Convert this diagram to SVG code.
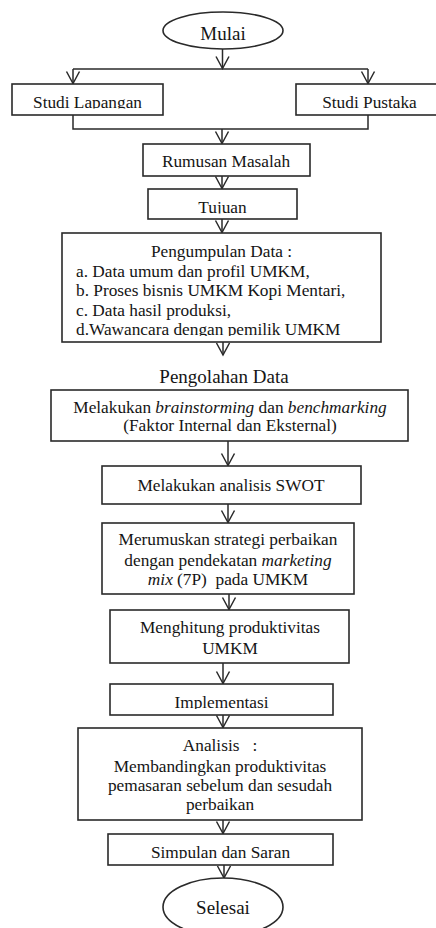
<svg xmlns="http://www.w3.org/2000/svg" width="436" height="928" viewBox="0 0 436 928">
<style>
.box{fill:#fff;stroke:#2a2a2a;stroke-width:1.6}
.t{font-family:"Liberation Serif","Times New Roman",serif;font-size:17.3px;fill:#151515;text-anchor:middle;white-space:pre}
.tl{text-anchor:start}
.big{font-size:19px}
.c{fill:none;stroke:#2a2a2a;stroke-width:1.5}
.a{marker-end:url(#ah)}
i,.it{font-style:italic}
</style>
<defs>
<marker id="ah" markerUnits="userSpaceOnUse" markerWidth="16" markerHeight="16" viewBox="-13 -8 16 16" refX="0" refY="0" orient="auto">
<path d="M-12,-6.5 L0,0 L-12,6.5" fill="none" stroke="#2a2a2a" stroke-width="1.5"/>
</marker>
<clipPath id="cpL" clipPathUnits="userSpaceOnUse"><rect x="0" y="84" width="436" height="24.5"/></clipPath>
<clipPath id="cpT" clipPathUnits="userSpaceOnUse"><rect x="0" y="189" width="436" height="24.5"/></clipPath>
<clipPath id="cpD" clipPathUnits="userSpaceOnUse"><rect x="0" y="320" width="436" height="16"/></clipPath>
<clipPath id="cpI" clipPathUnits="userSpaceOnUse"><rect x="0" y="684" width="436" height="25"/></clipPath>
<clipPath id="cpS" clipPathUnits="userSpaceOnUse"><rect x="0" y="834" width="436" height="24.5"/></clipPath>
</defs>

<g id="connectors">
<path class="c a" d="M222.5,49 V68.5"/>
<path class="c" d="M73,69 H368"/>
<path class="c a" d="M73,69 V83.5"/>
<path class="c a" d="M368,69 V83.5"/>
<path class="c" d="M73,115 V129 H368 V115"/>
<path class="c a" d="M222,129 V143.5"/>
<path class="c a" d="M222,176 V188.5"/>
<path class="c a" d="M222,219 V232.5"/>
<path class="c a" d="M223,342 V355"/>
<path class="c a" d="M228,441 V465.5"/>
<path class="c a" d="M228,504 V522.5"/>
<path class="c a" d="M229,594 V609.5"/>
<path class="c a" d="M223,663 V683.5"/>
<path class="c a" d="M223,715 V727.5"/>
<path class="c a" d="M223,820 V833.5"/>
<path class="c a" d="M224,865 V878"/>
</g>

<g id="mulai">
<ellipse class="box" cx="223" cy="30.5" rx="60" ry="18.5"/>
<text class="t big" x="223" y="39.5">Mulai</text>
</g>

<g id="studi-lapangan">
<rect class="box" x="12" y="84" width="151" height="31"/>
<text class="t" x="87.5" y="107.5" clip-path="url(#cpL)">Studi Lapangan</text>
</g>

<g id="studi-pustaka">
<rect class="box" x="296" y="84" width="144" height="31"/>
<text class="t" x="369.5" y="107.5">Studi Pustaka</text>
</g>

<g id="rumusan-masalah">
<rect class="box" x="143" y="144" width="167" height="32"/>
<text class="t" x="226" y="166.5">Rumusan Masalah</text>
</g>

<g id="tujuan">
<rect class="box" x="148" y="189" width="149" height="30"/>
<text class="t" x="222.5" y="212.5" clip-path="url(#cpT)">Tujuan</text>
</g>

<g id="pengumpulan-data">
<rect class="box" x="62" y="233" width="319" height="109"/>
<text class="t" x="221.5" y="257">Pengumpulan Data :</text>
<text class="t tl" x="76" y="276.5">a. Data umum dan profil UMKM,</text>
<text class="t tl" x="76" y="296">b. Proses bisnis UMKM Kopi Mentari,</text>
<text class="t tl" x="76" y="315.5">c. Data hasil produksi,</text>
<text class="t tl" x="76" y="335" clip-path="url(#cpD)">d.Wawancara dengan pemilik UMKM</text>
</g>

<g id="pengolahan-data">
<text class="t big" x="224" y="383">Pengolahan Data</text>
</g>

<g id="brainstorming">
<rect class="box" x="51" y="390" width="357" height="51"/>
<text class="t" x="230" y="412.5">Melakukan <tspan class="it">brainstorming</tspan> dan <tspan class="it">benchmarking</tspan></text>
<text class="t" x="230" y="431">(Faktor Internal dan Eksternal)</text>
</g>

<g id="swot">
<rect class="box" x="102" y="466" width="259" height="38"/>
<text class="t" x="231" y="491">Melakukan analisis SWOT</text>
</g>

<g id="merumuskan-strategi">
<rect class="box" x="102" y="523" width="252" height="71"/>
<text class="t" x="228" y="545">Merumuskan strategi perbaikan</text>
<text class="t" x="228" y="566">dengan pendekatan <tspan class="it">marketing</tspan></text>
<text class="t" x="228" y="585"><tspan class="it">mix</tspan> (7P)  pada UMKM</text>
</g>

<g id="menghitung-produktivitas">
<rect class="box" x="110" y="610" width="239" height="53"/>
<text class="t" x="230" y="633">Menghitung produktivitas</text>
<text class="t" x="230" y="653.5">UMKM</text>
</g>

<g id="implementasi">
<rect class="box" x="110" y="684" width="223" height="31"/>
<text class="t" x="221.5" y="708" clip-path="url(#cpI)">Implementasi</text>
</g>

<g id="analisis">
<rect class="box" x="78" y="728" width="284" height="92"/>
<text class="t" x="220" y="751">Analisis   :</text>
<text class="t" x="220" y="772">Membandingkan produktivitas</text>
<text class="t" x="220" y="791">pemasaran sebelum dan sesudah</text>
<text class="t" x="220" y="810">perbaikan</text>
</g>

<g id="simpulan-saran">
<rect class="box" x="108" y="834" width="225" height="31"/>
<text class="t" x="220.5" y="857.5" clip-path="url(#cpS)">Simpulan dan Saran</text>
</g>

<g id="selesai">
<ellipse class="box" cx="223" cy="907" rx="60" ry="29"/>
<text class="t big" x="223" y="913.5">Selesai</text>
</g>
</svg>
